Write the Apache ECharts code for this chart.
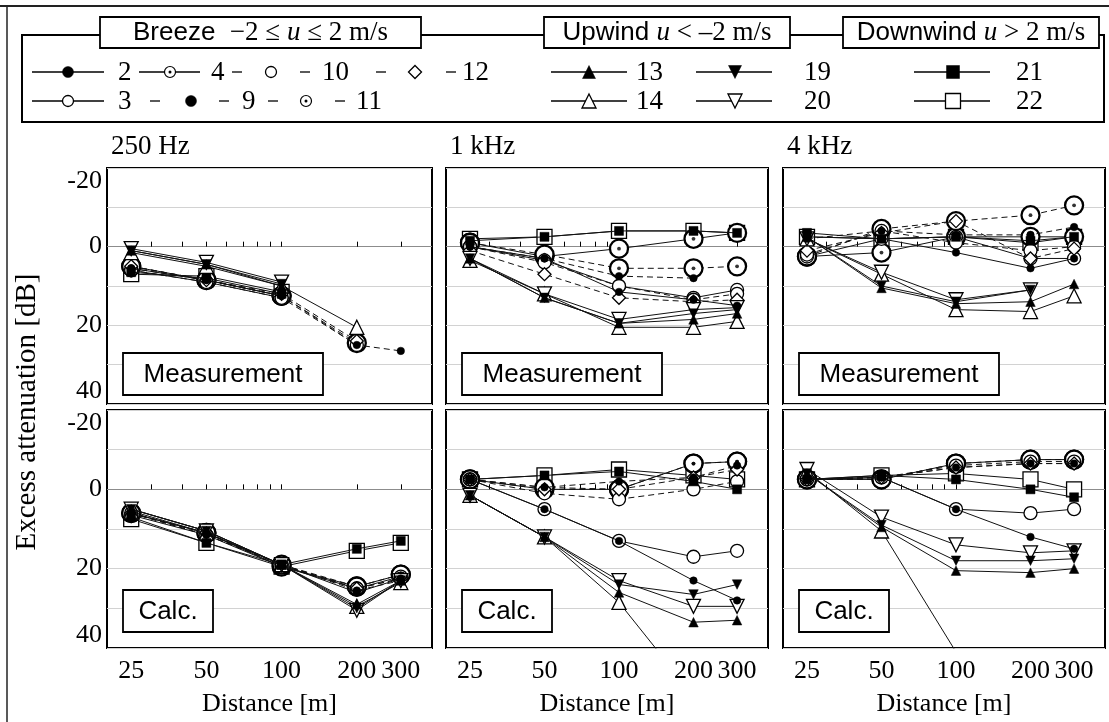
<!DOCTYPE html>
<html><head><meta charset="utf-8">
<script src="https://cdn.jsdelivr.net/npm/echarts@6/dist/echarts.min.js"></script>
<style>html,body{margin:0;padding:0;background:#fff}#c{width:1109px;height:722px}</style>
</head><body><div id="c"></div>
<script>
// ---------- DATA ----------
const distances = [25, 50, 100, 200, 300];
const seriesIds = ['2','3','4','9','10','11','12','13','14','19','20','21','22'];
const xTickLabels = [25, 50, 100, 200, 300];
const xTickMarks = [30, 40, 50, 60, 70, 80, 90, 100, 200, 300];
const yTickLabels = [-20, 0, 20, 40];
const panelTitles = ['250 Hz', '1 kHz', '4 kHz'];
const rowLabels = ['Measurement', 'Calc.'];
const groupTitles = ['Breeze', 'Upwind', 'Downwind'];

// Excess attenuation [dB]; one row per entry of seriesIds, one value per distance
const meas250Hz = [
  [5.5, 8.5, 12.5, null, null],
  [6, 9, 13, null, null],
  [5, 8.5, 12.5, null, null],
  [5.5, 8.5, 12.5, 25, 26.5],
  [6, 9, 13, 25, null],
  [5, 8.5, 12.5, 24.5, null],
  [5, 8.5, 12, 24, null],
  [1, 4.5, 10, null, null],
  [1.5, 5, 10, 20.5, null],
  [1, 4.5, 9.5, null, null],
  [0.5, 4, 9, null, null],
  [6.5, 8, 12, null, null],
  [7, 7.5, 11.5, null, null]
];
const meas1kHz = [
  [0, 3, 11.5, 13.5, 15],
  [0, 3.5, 10, 13, 11],
  [-1, 2.5, 0.5, -2, -3.5],
  [0, 3, 7.5, 8, null],
  [0, 4, 10, 13.5, 12],
  [-1, 2, 5.5, 5.5, 5],
  [1, 7, 13, 14, 13.5],
  [3, 13, 19.5, 18.5, 17],
  [3.5, 12, 20.5, 20.5, 19],
  [3, 13, 19.5, 17, 16],
  [3, 12, 18.5, 16, 15.5],
  [-1.5, -2.5, -4, -4, -3.5],
  [-2, -2.5, -4, -4, -3.5]
];
const meas4kHz = [
  [-2.5, -2, 1.5, 5.5, 3],
  [2.5, -2, -2.5, 3, 3],
  [2.5, 1.5, -2.5, -2.5, -2.5],
  [-2, -4, -3, -3, -5],
  [2, -4, -1, 1, 0],
  [2.5, -4.5, -6.5, -8, -10.5],
  [1, -3.5, -6.5, 3, 0.5],
  [-2.5, 10.5, 14.5, 14, 9.5],
  [-2, 7, 16, 16.5, 12.5],
  [-2.5, 10, 14, 11, null],
  [-2, 6.5, 13.5, 11, null],
  [-3.5, -2, -2.5, -1.5, -2.5],
  [-2.5, -2, -2.5, -1, -2.5]
];
const calc250Hz = [
  [6, 11, 19, 26, 22.5],
  [6.5, 11.5, 19.5, 25, 22],
  [6, 11, 19.5, 24.5, 21.5],
  [6, 11.5, 19, 25.5, 23],
  [6, 11.5, 19, 25, 22.5],
  [6, 11, 19, 24.5, 21.5],
  [6, 11, 19, 25, 22.5],
  [5, 10.5, 19, 29, 23],
  [5.5, 11, 19, 29.5, 23.5],
  [5, 10.5, 19, 30, 23],
  [5, 10.5, 19, 30.5, 23],
  [7, 13.5, 19, 15, 13],
  [7.5, 13.5, 19.5, 15.5, 13.5]
];
const calc1kHz = [
  [-2.5, 5, 13, 23, 28],
  [-2.5, 5, 13, 17, 15.5],
  [-2.5, 0, 0, -6.5, -7],
  [-2.5, -0.5, -2, -3, -6],
  [-2.5, 1, 2.5, 0, -2],
  [-2.5, -0.5, 0, -6.5, -7],
  [-2.5, 0, 0, -3, -5],
  [1.5, 12, 26, 33.5, 33],
  [1.5, 12, 28.5, 52, null],
  [1.5, 12, 24, 26.5, 24],
  [1.5, 12, 23, 29.5, 29.5],
  [-2.5, -3.5, -4.5, -2, 0],
  [-2.5, -3.5, -5, -3.5, -2.5]
];
const calc4kHz = [
  [-2.5, -3, 5, 12, 15],
  [-2.5, -3, 5, 6, 5],
  [-2.5, -2.5, -6.5, -7.5, -7.5],
  [-2.5, -3, -5.5, -6.5, -6.5],
  [-2.5, -3, -6, -7, -7],
  [-2.5, -2.5, -6.5, -7.5, -7.5],
  [-2.5, -3, -5.5, -6.5, -6.5],
  [-4, 9.5, 20.5, 21, 20],
  [-4.5, 10.5, 41, null, null],
  [-4, 9, 18, 18, 17.5],
  [-5, 7, 14, 16, 15.5],
  [-2.5, -3.5, -2.5, 0, 2],
  [-2.5, -3.5, -4, -2.5, 0]
];

// ---------- STYLE / LAYOUT ----------
const SERIF = 'Liberation Serif', SANS = 'Liberation Sans';
const STY = {
  '2':  {sym:'circle', size:7.5, fill:'#000', z:6},
  '3':  {sym:'circle', size:13, fill:'#fff', z:4},
  '4':  {sym:'circle', size:18, fill:'#fff', z:3, dot:true, bw:2.3},
  '9':  {sym:'circle', size:7.5, fill:'#000', z:6, dash:true},
  '10': {sym:'circle', size:13, fill:'#fff', z:4, dash:true},
  '11': {sym:'circle', size:18, fill:'#fff', z:3, dot:true, bw:2.3, dash:true},
  '12': {sym:'diamond', size:13, fill:'#fff', z:4, dash:true},
  '13': {sym:'triangle', size:9.5, fill:'#000', z:6},
  '14': {sym:'triangle', size:14, fill:'#fff', z:5},
  '19': {sym:'triangle', size:9.5, fill:'#000', z:6, rot:180},
  '20': {sym:'triangle', size:14, fill:'#fff', z:5, rot:180},
  '21': {sym:'rect', size:9, fill:'#000', z:6},
  '22': {sym:'rect', size:15, fill:'#fff', z:2}
};
const colLeft = [107, 446, 783], colWidth = [325, 322, 322];
const rowTop = [168, 410], rowHeight = [236, 238];
const panelData = [meas250Hz, meas1kHz, meas4kHz, calc250Hz, calc1kHz, calc4kHz];

const grids = [], xAxes = [], yAxes = [], series = [];
panelData.forEach((rows, p) => {
  const row = Math.floor(p / 3), col = p % 3;
  grids.push({left: colLeft[col], top: rowTop[row], width: colWidth[col], height: rowHeight[row],
    show: true, borderColor: '#000', borderWidth: 2, backgroundColor: 'transparent', containLabel: false});
  xAxes.push({gridIndex: p, type: 'log', logBase: 10, min: 20, max: 400,
    axisLine: {show: false},
    axisTick: {show: true, inside: true, length: 5, customValues: xTickMarks, lineStyle: {color: '#000', width: 1}},
    axisLabel: {show: row === 1, customValues: xTickLabels, formatter: v => String(Math.round(v)),
      fontFamily: SERIF, fontSize: 26, color: '#000', margin: 10},
    splitLine: {show: false}, minorTick: {show: false},
    name: row === 1 ? 'Distance [m]' : '', nameLocation: 'middle', nameGap: 43,
    nameTextStyle: {fontFamily: SERIF, fontSize: 26, color: '#000'}});
  yAxes.push({gridIndex: p, type: 'value', min: -20, max: 40, interval: 10, inverse: true,
    axisLine: {show: false}, axisTick: {show: false},
    splitLine: {show: true, lineStyle: {color: ['#d2d2d2', '#d2d2d2', '#8c8c8c', '#d2d2d2', '#d2d2d2', '#d2d2d2', '#d2d2d2'], width: 1}},
    axisLabel: {show: col === 0, formatter: v => (yTickLabels.indexOf(v) >= 0 ? String(v) : ''),
      fontFamily: SERIF, fontSize: 26, color: '#000', margin: 5,
      verticalAlignMinLabel: 'top', verticalAlignMaxLabel: 'bottom'}});
  rows.forEach((vals, i) => {
    const id = seriesIds[i], s = STY[id];
    const data = [];
    distances.forEach((d, k) => { if (vals[k] !== null) data.push([d, vals[k]]); });
    series.push({type: 'line', name: id, xAxisIndex: p, yAxisIndex: p, data,
      symbol: s.sym, symbolSize: s.size, symbolRotate: s.rot || 0, z: s.z, clip: true,
      lineStyle: {color: '#111', width: 1, type: s.dash ? [6, 4] : 'solid'},
      itemStyle: {color: s.fill, borderColor: '#000', borderWidth: s.fill === '#000' ? 0.5 : (s.bw || 1.3)},
      emphasis: {disabled: true}, silent: true, animation: false});
    if (s.dot) {
      series.push({type: 'scatter', name: id + 'dot', xAxisIndex: p, yAxisIndex: p, data,
        symbol: 'circle', symbolSize: 3.8, z: s.z + 0.1, clip: true,
        itemStyle: {color: '#000'}, silent: true, animation: false});
    }
  });
});

// ---------- GRAPHIC (legend, titles, frames) ----------
const G = [];
function marker(id, cx, cy) {
  const s = STY[id];
  const st = {fill: s.fill, stroke: '#000', lineWidth: s.fill === '#000' ? 0.5 : 1.3};
  if (s.sym === 'circle') {
    const r = s.dot ? 5.5 : 5.5;
    G.push({type: 'circle', shape: {cx, cy, r}, style: Object.assign({}, st, {lineWidth: s.dot ? 1.2 : st.lineWidth}), z: 12});
    if (s.dot) G.push({type: 'circle', shape: {cx, cy, r: 1.5}, style: {fill: '#000'}, z: 13});
  } else if (s.sym === 'diamond') {
    const h = 6.5;
    G.push({type: 'polygon', shape: {points: [[cx, cy - h], [cx + h, cy], [cx, cy + h], [cx - h, cy]]}, style: st, z: 12});
  } else if (s.sym === 'triangle') {
    const h = s.fill === '#000' ? 6.5 : 7;
    const pts = s.rot ? [[cx - h, cy - h], [cx + h, cy - h], [cx, cy + h]] : [[cx, cy - h], [cx + h, cy + h], [cx - h, cy + h]];
    G.push({type: 'polygon', shape: {points: pts}, style: st, z: 12});
  } else if (s.sym === 'rect') {
    const h = s.fill === '#000' ? 6.5 : 7.5;
    G.push({type: 'rect', shape: {x: cx - h, y: cy - h, width: 2 * h, height: 2 * h}, style: st, z: 12});
  }
}
function hline(x0, x1, y, w) {
  G.push({type: 'line', shape: {x1: x0, y1: y, x2: x1, y2: y}, style: {stroke: '#000', lineWidth: w || 1.3}, z: 11});
}
function text(str, x, y, size, opts) {
  G.push(Object.assign({type: 'text', x, y, z: 14, style: Object.assign({text: str, fontFamily: SERIF, fontSize: size, fill: '#000',
    textAlign: 'left', textVerticalAlign: 'middle'}, opts || {})}));
}
// outer frame lines
G.push({type: 'line', shape: {x1: 0, y1: 6, x2: 1109, y2: 6}, style: {stroke: '#222', lineWidth: 2}, z: 10});
G.push({type: 'line', shape: {x1: 7, y1: 6, x2: 7, y2: 722}, style: {stroke: '#222', lineWidth: 1.5}, z: 10});
// legend frame
G.push({type: 'rect', shape: {x: 22, y: 35, width: 1082, height: 87}, style: {fill: '#fff', stroke: '#000', lineWidth: 2}, z: 10});
// group title boxes
const titleBoxes = [
  {x: 100, w: 321, t: '{s|' + groupTitles[0] + '  }{m|\u22122 \u2264 }{i|u}{m| \u2264 2 m/s}'},
  {x: 544, w: 246, t: '{s|' + groupTitles[1] + ' }{i|u}{m| < \u20132 m/s}'},
  {x: 843, w: 256, t: '{s|' + groupTitles[2] + ' }{i|u}{m| > 2 m/s}'}
];
titleBoxes.forEach(b => {
  G.push({type: 'rect', shape: {x: b.x, y: 17, width: b.w, height: 31}, style: {fill: '#fff', stroke: '#000', lineWidth: 1.8}, z: 11});
  G.push({type: 'text', x: b.x + b.w / 2, y: 33, z: 14, style: {text: b.t, textAlign: 'center', textVerticalAlign: 'middle', fill: '#000',
    rich: {s: {fontFamily: SANS, fontSize: 26, fill: '#000'}, m: {fontFamily: SERIF, fontSize: 27, fill: '#000'},
           i: {fontFamily: SERIF, fontSize: 27, fontStyle: 'italic', fill: '#000'}}}});
});
// legend entries
const R1 = 72, R2 = 101;
const legendLayout = [
  {id: '2', y: R1, seg: [[32, 104]], mx: 68, lx: 118},
  {id: '4', y: R1, seg: [[139, 200]], mx: 170, lx: 211},
  {id: '10', y: R1, seg: [[232, 242], [300, 310]], mx: 271, lx: 322},
  {id: '12', y: R1, seg: [[376, 386], [446, 456]], mx: 415, lx: 462},
  {id: '3', y: R2, seg: [[32, 104]], mx: 68, lx: 118},
  {id: '9', y: R2, seg: [[150, 160], [219, 229]], mx: 191, lx: 242},
  {id: '11', y: R2, seg: [[268, 278], [335, 345]], mx: 306, lx: 356},
  {id: '13', y: R1, seg: [[551, 627]], mx: 589, lx: 636},
  {id: '19', y: R1, seg: [[696, 772]], mx: 735, lx: 804},
  {id: '21', y: R1, seg: [[914, 990]], mx: 953, lx: 1016},
  {id: '14', y: R2, seg: [[551, 627]], mx: 589, lx: 636},
  {id: '20', y: R2, seg: [[696, 772]], mx: 735, lx: 804},
  {id: '22', y: R2, seg: [[914, 990]], mx: 953, lx: 1016}
];
legendLayout.forEach(e => {
  e.seg.forEach(sg => hline(sg[0], sg[1], e.y, 1.3));
  marker(e.id, e.mx, e.y);
  text(e.id, e.lx, e.y + 1, 27);
});
// panel titles
panelTitles.forEach((t, c) => text(t, colLeft[c] + 4, 147, 27));
// row label boxes
[0, 1].forEach(r => {
  const by = r === 0 ? 353 : 590;
  const bw = r === 0 ? 200 : 90;
  [0, 1, 2].forEach(c => {
    const bx = colLeft[c] + 16;
    G.push({type: 'rect', shape: {x: bx, y: by, width: bw, height: 42}, style: {fill: '#fff', stroke: '#000', lineWidth: 1.8}, z: 20});
    G.push({type: 'text', x: bx + bw / 2, y: by + 22, z: 21, style: {text: rowLabels[r], fontFamily: SANS, fontSize: 26, fill: '#000',
      textAlign: 'center', textVerticalAlign: 'middle'}});
  });
});
// y axis title
G.push({type: 'text', x: 27, y: 412, rotation: Math.PI / 2, z: 14, style: {text: 'Excess attenuation [dB]', fontFamily: SERIF, fontSize: 29,
  fill: '#000', textAlign: 'center', textVerticalAlign: 'middle'}});

const chart = echarts.init(document.getElementById('c'), null, {renderer: 'canvas'});
chart.setOption({
  animation: false,
  backgroundColor: '#fff',
  grid: grids, xAxis: xAxes, yAxis: yAxes, series,
  graphic: {elements: G}
});
</script></body></html>
